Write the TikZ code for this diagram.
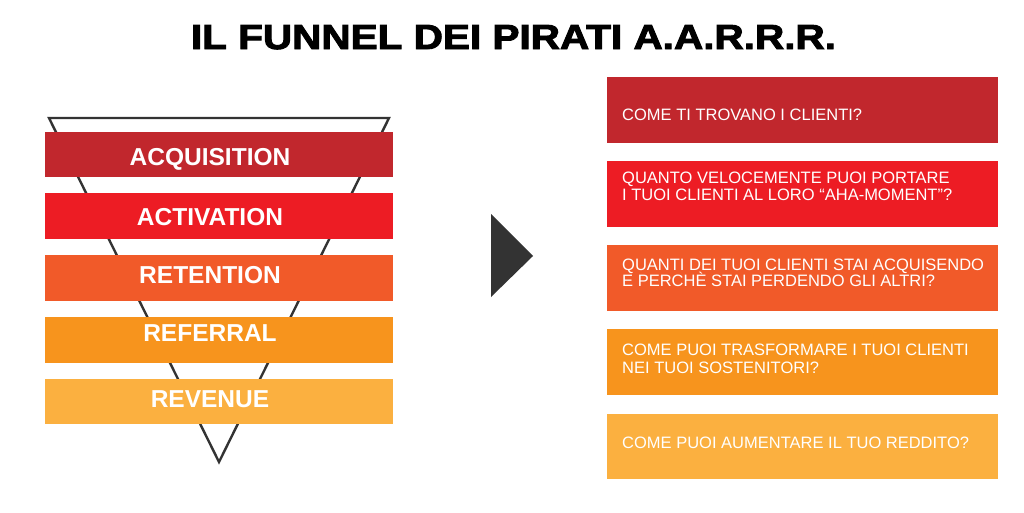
\documentclass[tikz,border=0pt]{standalone}
\usepackage{fontspec}
\setmainfont{Liberation Sans}
\newfontfamily\titlefont[FakeBold=2.5]{Liberation Sans}
\usepackage{graphicx}
\definecolor{cA}{HTML}{C1272D}
\definecolor{cB}{HTML}{ED1C24}
\definecolor{cC}{HTML}{F15A29}
\definecolor{cD}{HTML}{F7941D}
\definecolor{cE}{HTML}{FBB040}
\definecolor{dk}{HTML}{333333}
\tikzset{
  bar/.style={fill=#1, draw=none},
  barlabel/.style={anchor=base, text=white, font=\fontsize{24.5}{28}\selectfont\bfseries, inner sep=0pt},
  qtext/.style={anchor=base west, text=white, font=\fontsize{16.5}{17}\selectfont, inner sep=0pt},
}
\begin{document}
\begin{tikzpicture}[x=1pt,y=-1pt]
\useasboundingbox (0,0) rectangle (1024,512);
\fill[white] (0,0) rectangle (1024,512);
% title
\node[inner sep=0pt, anchor=base] (title) at (513.5,49) {\resizebox{645pt}{24pt}{\titlefont\bfseries IL FUNNEL DEI PIRATI A.A.R.R.R.}};
% funnel triangle
\draw[dk, line width=2.4pt, line join=miter] (49,118) coordinate (tl) -- (389,118) coordinate (tr) -- (219,462) coordinate (ap) -- cycle;
% bars
\fill[bar=cA] (45,132) rectangle (393,177);
\fill[bar=cB] (45,193) rectangle (393,239);
\fill[bar=cC] (45,255) rectangle (393,301);
\fill[bar=cD] (45,317) rectangle (393,363);
\fill[bar=cE] (45,379) rectangle (393,424);
\node[barlabel] (l1) at (210,165.5) {ACQUISITION};
\node[barlabel] (l2) at (210,225.5) {ACTIVATION};
\node[barlabel] (l3) at (210,283.5) {RETENTION};
\node[barlabel] (l4) at (210,341.5) {REFERRAL};
\node[barlabel] (l5) at (210,407.5) {REVENUE};
% arrow
\fill[dk] (491,214) coordinate (a1) -- (533,256) coordinate (a2) -- (491,297) coordinate (a3) -- cycle;
% right boxes
\fill[bar=cA] (607,77) rectangle (998,143);
\fill[bar=cB] (607,161) rectangle (998,227);
\fill[bar=cC] (607,245) rectangle (998,311);
\fill[bar=cD] (607,329) rectangle (998,395);
\fill[bar=cE] (607,414) rectangle (998,479);
\node[qtext] (q1) at (622,120) {COME TI TROVANO I CLIENTI?};
\node[qtext] (q2a) at (622,183) {QUANTO VELOCEMENTE PUOI PORTARE};
\node[qtext] (q2b) at (622,200) {I TUOI CLIENTI AL LORO “AHA-MOMENT”?};
\node[qtext] (q3a) at (622,270) {QUANTI DEI TUOI CLIENTI STAI ACQUISENDO};
\node[qtext] (q3b) at (622,286) {E PERCHÈ STAI PERDENDO GLI ALTRI?};
\node[qtext] (q4a) at (622,355) {COME PUOI TRASFORMARE I TUOI CLIENTI};
\node[qtext] (q4b) at (622,373) {NEI TUOI SOSTENITORI?};
\node[qtext] (q5) at (622,448) {COME PUOI AUMENTARE IL TUO REDDITO?};
\end{tikzpicture}
\end{document}
